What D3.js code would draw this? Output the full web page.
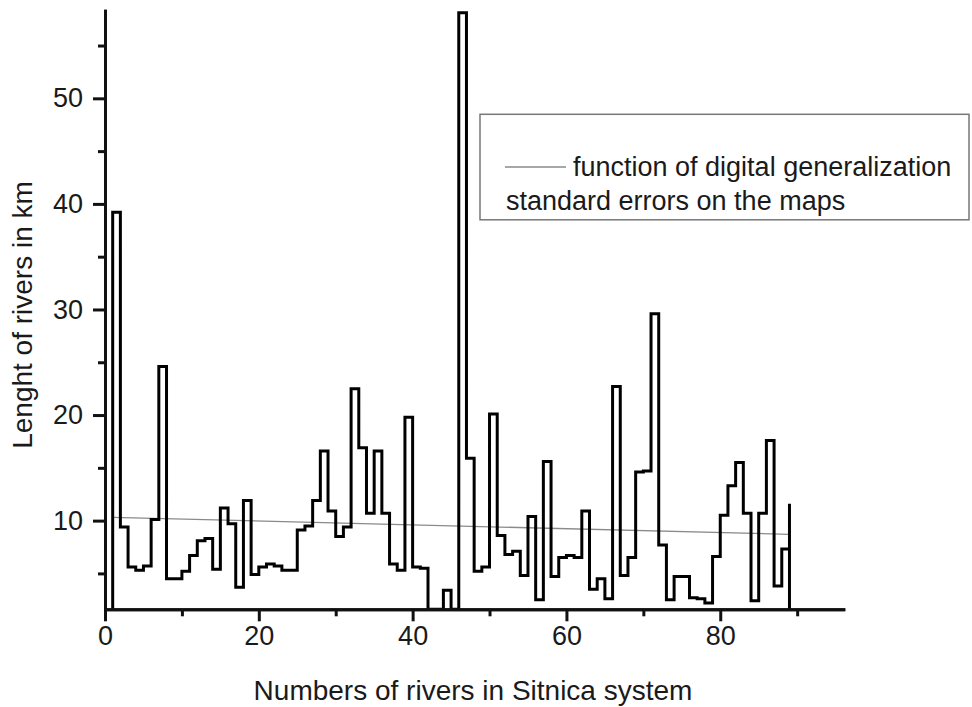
<html>
<head>
<style>
  body { margin: 0; background: #fff; }
  svg text { font-family: Arial, "Liberation Sans", sans-serif; fill: #1a1a1a; }
  .axis path, .axis line { stroke: #111; stroke-width: 3; }
  .axis text { font-size: 27px; }
</style>
</head>
<body>
<svg id="chart" width="972" height="707"></svg>
<script src="https://d3js.org/d3.v7.min.js"></script>
<script>
// river number (x) and river length in km (y)
var riverNumbers = d3.range(1, 90);
var riverLengths = [
  39.2, 9.4, 5.6, 5.3, 5.7, 10.1, 24.6, 4.5, 4.5, 5.2,
  6.7, 8.1, 8.3, 5.4, 11.2, 9.7, 3.7, 11.9, 4.9, 5.6,
  5.9, 5.7, 5.3, 5.3, 9.1, 9.5, 11.9, 16.6, 10.9, 8.5,
  9.4, 22.5, 16.9, 10.7, 16.6, 10.7, 5.9, 5.3, 19.8, 5.6,
  5.5, 1.6, 1.6, 3.4, 1.6, 58.1, 15.9, 5.2, 5.6, 20.1,
  8.6, 6.8, 7.1, 4.8, 10.4, 2.5, 15.6, 4.7, 6.5, 6.7,
  6.5, 10.9, 3.5, 4.5, 2.6, 22.7, 4.8, 6.5, 14.6, 14.7,
  29.6, 7.7, 2.5, 4.7, 4.7, 2.7, 2.6, 2.2, 6.6, 10.5,
  13.3, 15.5, 10.7, 2.4, 10.7, 17.6, 3.8, 7.3, 11.6
];
// linear function of digital generalization (end points)
var trendX = [1, 89];
var trendY = [10.31, 8.70];

var xMajorTicks = [0, 20, 40, 60, 80];
var xMinorTicks = [10, 30, 50, 70, 90];
var yMajorTicks = [10, 20, 30, 40, 50];
var yMinorTicks = [5, 15, 25, 35, 45, 55];

var legendLabels = ['function of digital generalization', 'standard errors on the maps'];
var xTitle = 'Numbers of rivers in Sitnica system';
var yTitle = 'Lenght of rivers in km';

var margin = {left: 105, top: 10.7, right: 128.7, bottom: 97.7};
var W = 972, H = 707;
var innerW = W - margin.left - margin.right;
var innerH = H - margin.top - margin.bottom;

var svg = d3.select('#chart');
var g = svg.append('g').attr('transform', 'translate(' + margin.left + ',' + margin.top + ')');

var x = d3.scaleLinear().domain([0, 96]).range([0, innerW]);
var y = d3.scaleLinear().domain([1.6, 58.3]).range([innerH, 0]);

g.append('clipPath').attr('id', 'clip')
  .append('rect').attr('x', 0).attr('y', -2).attr('width', innerW).attr('height', innerH + 2);

// trend line
var trend = trendX.map(function(d, i) { return [d, trendY[i]]; });
g.append('path')
  .datum(trend)
  .attr('fill', 'none')
  .attr('stroke', '#8a8a8a')
  .attr('stroke-width', 1.3)
  .attr('d', d3.line().x(function(d) { return x(d[0]); }).y(function(d) { return y(d[1]); }));

// step line, starting and ending on the baseline
var pts = riverNumbers.map(function(d, i) { return [d, riverLengths[i]]; });
pts.unshift([riverNumbers[0], y.domain()[0] - 1]);
pts.push([riverNumbers[riverNumbers.length - 1], y.domain()[0] - 1]);

g.append('path')
  .datum(pts)
  .attr('clip-path', 'url(#clip)')
  .attr('fill', 'none')
  .attr('stroke', '#000')
  .attr('stroke-width', 3)
  .attr('stroke-linejoin', 'miter')
  .attr('d', d3.line()
    .curve(d3.curveStepAfter)
    .x(function(d) { return x(d[0]); })
    .y(function(d) { return y(d[1]); }));

// axes
g.append('g').attr('class', 'axis')
  .attr('transform', 'translate(0,' + innerH + ')')
  .call(d3.axisBottom(x).tickValues(xMinorTicks).tickSize(7).tickSizeOuter(0).tickFormat(''));
g.append('g').attr('class', 'axis')
  .attr('transform', 'translate(0,' + innerH + ')')
  .call(d3.axisBottom(x).tickValues(xMajorTicks).tickSize(12).tickSizeOuter(0).tickPadding(5));

g.append('g').attr('class', 'axis')
  .call(d3.axisLeft(y).tickValues(yMinorTicks).tickSize(7).tickSizeOuter(0).tickFormat(''));
g.append('g').attr('class', 'axis')
  .call(d3.axisLeft(y).tickValues(yMajorTicks).tickSize(12).tickSizeOuter(0).tickPadding(10));

g.selectAll('.axis .domain').attr('stroke-linecap', 'square');

// axis titles
svg.append('text')
  .attr('x', 473).attr('y', 700)
  .attr('text-anchor', 'middle')
  .style('font-size', '28px')
  .text(xTitle);

svg.append('text')
  .attr('transform', 'translate(32,315) rotate(-90)')
  .attr('text-anchor', 'middle')
  .style('font-size', '28px')
  .text(yTitle);

// legend
var legend = svg.append('g');
legend.append('rect')
  .attr('x', 480).attr('y', 114.3)
  .attr('width', 489).attr('height', 105.5)
  .attr('fill', '#fff')
  .attr('stroke', '#777')
  .attr('stroke-width', 1.5);
legend.append('line')
  .attr('x1', 505).attr('x2', 566)
  .attr('y1', 167).attr('y2', 167)
  .attr('stroke', '#8a8a8a').attr('stroke-width', 1.3);
legend.append('text')
  .attr('x', 573).attr('y', 176)
  .style('font-size', '27px')
  .text(legendLabels[0]);
legend.append('text')
  .attr('x', 506).attr('y', 210)
  .style('font-size', '27px')
  .text(legendLabels[1]);
</script>
</body>
</html>
